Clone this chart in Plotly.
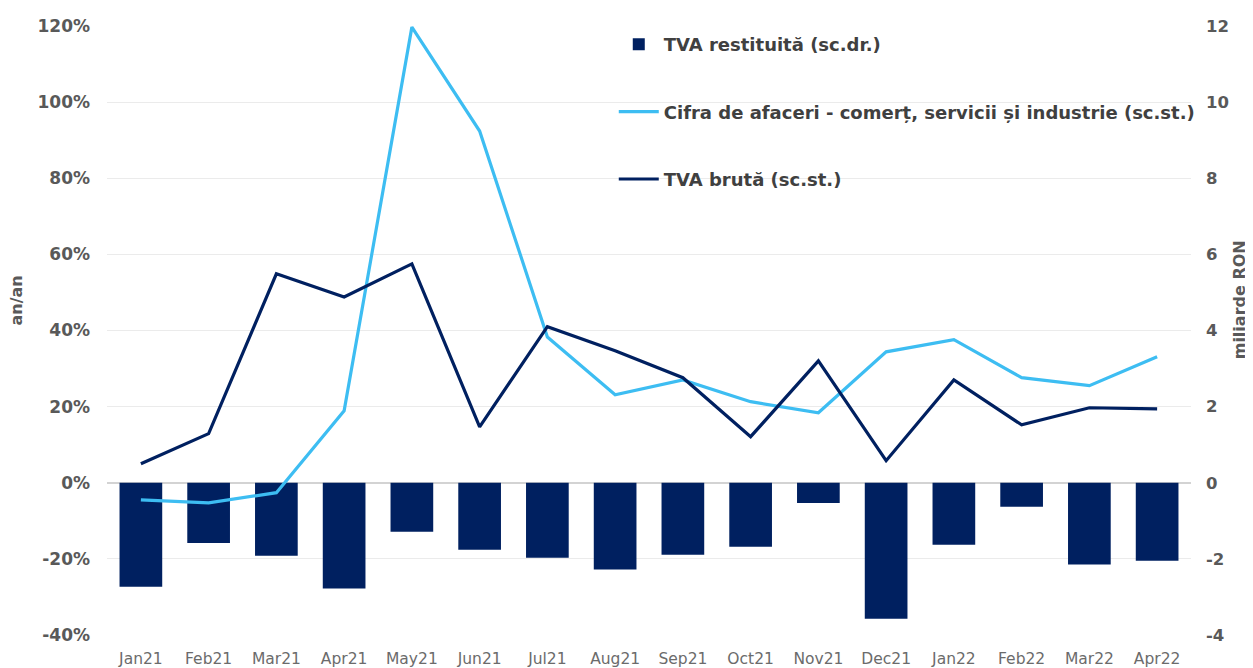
import plotly.graph_objects as go

months = ["Jan21", "Feb21", "Mar21", "Apr21", "May21", "Jun21", "Jul21", "Aug21",
          "Sep21", "Oct21", "Nov21", "Dec21", "Jan22", "Feb22", "Mar22", "Apr22"]

# TVA restituita (miliarde RON, right axis)
tva_restituita = [-2.73, -1.58, -1.92, -2.78, -1.29, -1.76, -1.97, -2.28,
                  -1.89, -1.68, -0.53, -3.57, -1.63, -0.63, -2.15, -2.05]

# Cifra de afaceri (% an/an, left axis)
cifra_afaceri = [-4.5, -5.3, -2.6, 18.9, 119.7, 92.4, 38.3, 23.1,
                 27.0, 21.3, 18.4, 34.4, 37.6, 27.6, 25.5, 33.1]

# TVA bruta (% an/an, left axis)
tva_bruta = [5.0, 12.9, 54.9, 48.8, 57.5, 14.7, 41.0, 34.7,
             27.6, 12.1, 32.0, 5.8, 27.0, 15.2, 19.7, 19.4]

left_ticks = [-40, -20, 0, 20, 40, 60, 80, 100, 120]
right_ticks = [-4, -2, 0, 2, 4, 6, 8, 10, 12]

NAVY = "#002060"
LIGHT = "#3DBDF2"
FONT = "DejaVu Sans"
GREY = "#595959"

fig = go.Figure()
fig.add_trace(go.Bar(
    x=months, y=tva_restituita, name="TVA restituită (sc.dr.)",
    marker=dict(color=NAVY, line=dict(width=0)), yaxis="y",
    legendgroup="a",
))
fig.add_trace(go.Scatter(
    x=months, y=cifra_afaceri, name="Cifra de afaceri - comerț, servicii și industrie (sc.st.)",
    mode="lines", line=dict(color=LIGHT, width=3.2), yaxis="y2",
    legendgroup="b",
))
fig.add_trace(go.Scatter(
    x=months, y=tva_bruta, name="TVA brută (sc.st.)",
    mode="lines", line=dict(color=NAVY, width=3.2), yaxis="y2",
    legendgroup="c",
))

fig.update_layout(
    width=1245, height=660,
    margin=dict(l=99, r=62, t=18, b=33, autoexpand=False),
    paper_bgcolor="white", plot_bgcolor="white",
    font=dict(family=FONT, color=GREY),
    bargap=0.37,
    showlegend=True,
    legend=dict(
        x=0.4675, y=1.0, xanchor="left", yanchor="top",
        bgcolor="rgba(0,0,0,0)",
        font=dict(family=FONT, size=18, color="#404040", weight="bold"),
        traceorder="grouped", tracegroupgap=41, itemwidth=40,
    ),
    xaxis=dict(
        type="category", showgrid=False, showline=False, ticks="",
        tickfont=dict(family=FONT, size=15.5, color="#6b6b6b"),
        range=[-0.5, 15.5], automargin=False, ticklabelstandoff=12,
    ),
    xaxis2=dict(
        type="category", overlaying="x", anchor="free", position=0.25,
        categoryarray=months, categoryorder="array",
        range=[-0.5, 15.5], showgrid=False, showline=False,
        ticks="outside", tickson="boundaries", ticklen=5, tickwidth=1,
        tickcolor="#D3D3D3", showticklabels=False, automargin=False,
    ),
    yaxis=dict(
        side="right", range=[-4, 12], tickvals=right_ticks,
        ticktext=[str(v) for v in right_ticks],
        showgrid=True, gridcolor="#EBEBEB", gridwidth=1,
        zeroline=True, zerolinecolor="#D3D3D3", zerolinewidth=1.5,
        tickfont=dict(family=FONT, size=16.5, color=GREY, weight="bold"),
        ticklabelstandoff=14, automargin=False,
    ),
    yaxis2=dict(
        side="left", overlaying="y", range=[-40, 120], tickvals=left_ticks,
        ticktext=[f"{v}%" for v in left_ticks],
        showgrid=False, zeroline=False,
        tickfont=dict(family=FONT, size=17, color=GREY, weight="bold"),
        ticklabelstandoff=16, automargin=False,
    ),
    annotations=[
        dict(text="an/an", textangle=-90, xref="paper", yref="paper",
             x=-0.0835, y=0.55, xanchor="center", yanchor="middle", showarrow=False,
             font=dict(family=FONT, size=16, color=GREY, weight="bold")),
        dict(text="miliarde RON", textangle=-90, xref="paper", yref="paper",
             x=1.0445, y=0.55, xanchor="center", yanchor="middle", showarrow=False,
             font=dict(family=FONT, size=16, color=GREY, weight="bold")),
    ],
)

fig.write_html("out.html")
